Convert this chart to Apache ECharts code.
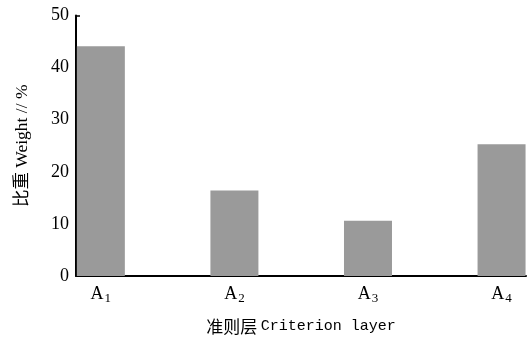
<!DOCTYPE html>
<html>
<head>
<meta charset="utf-8">
<script src="https://cdn.jsdelivr.net/npm/echarts@6/dist/echarts.min.js"></script>
<style>html,body{margin:0;padding:0;background:#fff;}#c{width:532px;height:337px;}</style>
</head>
<body>
<div id="c"></div>
<script>
const categories = ['1', '2', '3', '4'];
const positions = [1, 2, 3, 4];
const weights = [44.1, 16.4, 10.6, 25.3];
const yTicks = [0, 10, 20, 30, 40, 50];

const serif = "'Liberation Serif', 'Noto Sans CJK SC', serif";
const chart = echarts.init(document.getElementById('c'), null, {renderer: 'canvas'});
chart.setOption({
  animation: false,
  backgroundColor: '#fff',
  grid: {left: 76, right: 6, top: 15.5, bottom: 61, containLabel: false, outerBoundsMode: 'none'},
  xAxis: {
    type: 'value',
    min: 0.814, max: 4.183,
    splitLine: {show: false},
    axisLine: {show: true, lineStyle: {color: '#000', width: 2}},
    axisTick: {show: false},
    axisLabel: {
      customValues: positions,
      margin: 8,
      formatter: function (v) {
        const i = positions.indexOf(Math.round(v));
        return '{a|A}{s|' + categories[i] + '}';
      },
      rich: {
        a: {fontFamily: serif, fontSize: 18, color: '#000', lineHeight: 20},
        s: {fontFamily: serif, fontSize: 13, color: '#000', padding: [9, 0, 0, 1], lineHeight: 14}
      }
    },
    name: '{c|准则层} {e|Criterion layer}',
    nameLocation: 'middle',
    nameGap: 42,
    nameTextStyle: {
      rich: {
        c: {fontFamily: "'Noto Sans CJK SC'", fontSize: 17, color: '#000'},
        e: {fontFamily: "'Liberation Mono', monospace", fontSize: 15, color: '#000'}
      }
    }
  },
  yAxis: {
    type: 'value',
    min: yTicks[0], max: yTicks[yTicks.length - 1], interval: 10,
    splitLine: {show: false},
    axisLine: {show: true, lineStyle: {color: '#000', width: 2}},
    axisTick: {show: true, inside: true, length: 4, lineStyle: {color: '#000', width: 1.5}},
    axisLabel: {fontFamily: serif, fontSize: 18, color: '#000', margin: 7},
    name: '比重 Weight // %',
    nameLocation: 'middle',
    nameGap: 45,
    nameRotate: 90,
    nameTextStyle: {fontFamily: serif, fontSize: 17.5, color: '#000'}
  },
  series: [{
    type: 'bar',
    data: positions.map((p, i) => [p, weights[i]]),
    barWidth: 48,
    itemStyle: {color: '#9a9a9a'}
  }]
});
</script>
</body>
</html>
